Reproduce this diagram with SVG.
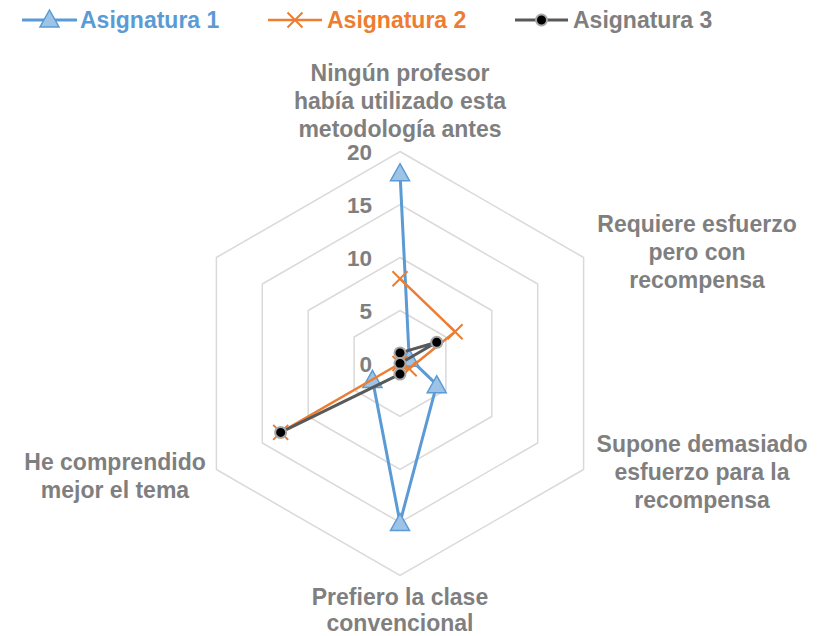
<svg xmlns="http://www.w3.org/2000/svg" width="830" height="636" viewBox="0 0 830 636">
<style>
.bg{fill:#ffffff}
.ring{fill:none;stroke:#d9d9d9;stroke-width:1.5}
.txt{font-family:"Liberation Sans",Arial,sans-serif;font-weight:bold;font-size:23px;fill:#7f7f7f}
.cat{text-anchor:middle}
.tick{text-anchor:end;font-size:22.5px}
.s1{fill:none;stroke:#5b9bd5;stroke-width:3;stroke-linejoin:round;stroke-linecap:round}
.s2{fill:none;stroke:#ed7d31;stroke-width:2.5;stroke-linejoin:round;stroke-linecap:round}
.s3{fill:none;stroke:#595959;stroke-width:3;stroke-linejoin:round;stroke-linecap:round}
.tri{fill:#9dc3e6;stroke:#5b9bd5;stroke-width:1.5}
.xm{fill:none;stroke:#ed7d31;stroke-width:2}
.dot{fill:#000000;stroke:#a6a6a6;stroke-width:2}
</style>
<defs>
<path id="mTri" class="tri" d="M0,-9 L9.5,8 L-9.5,8 Z"/>
<path id="mX" class="xm" d="M-7.5,-7.5 L7.5,7.5 M-7.5,7.5 L7.5,-7.5"/>
<circle id="mDot" class="dot" r="5.5"/>
</defs>
<rect class="bg" x="0" y="0" width="830" height="636"/>

<g id="grid">
<polygon class="ring" points="400,310.5 445.9,337 445.9,390 400,416.5 354.1,390 354.1,337"/>
<polygon class="ring" points="400,257.5 491.8,310.5 491.8,416.5 400,469.5 308.2,416.5 308.2,310.5"/>
<polygon class="ring" points="400,204.5 537.7,284 537.7,443 400,522.5 262.3,443 262.3,284"/>
<polygon class="ring" points="400,151.5 583.6,257.5 583.6,469.5 400,575.5 216.4,469.5 216.4,257.5"/>
</g>

<g id="ticks" class="txt tick">
<text x="372" y="160">20</text>
<text x="372" y="212.5">15</text>
<text x="372" y="265.5">10</text>
<text x="372" y="318.5">5</text>
<text x="372" y="371.5">0</text>
</g>

<g id="cat-top" class="txt cat">
<text x="400" y="81">Ningún profesor</text>
<text x="400" y="109">había utilizado esta</text>
<text x="400" y="137">metodología antes</text>
</g>
<g id="cat-ur" class="txt cat">
<text x="697" y="232">Requiere esfuerzo</text>
<text x="697" y="260">pero con</text>
<text x="697" y="288">recompensa</text>
</g>
<g id="cat-lr" class="txt cat">
<text x="702" y="452">Supone demasiado</text>
<text x="702" y="480">esfuerzo para la</text>
<text x="702" y="508">recompensa</text>
</g>
<g id="cat-bottom" class="txt cat">
<text x="400" y="605">Prefiero la clase</text>
<text x="400" y="631">convencional</text>
</g>
<g id="cat-ll" class="txt cat">
<text x="115" y="470">He comprendido</text>
<text x="115" y="498">mejor el tema</text>
</g>

<g id="connectors">
<g id="series1">
<polyline class="s1" points="400,172.7 409.18,358.2 436.72,384.7 400,522.5 372.46,379.4"/>
<use href="#mTri" x="400" y="172.7"/>
<use href="#mTri" x="409.18" y="358.2"/>
<use href="#mTri" x="436.72" y="384.7"/>
<use href="#mTri" x="400" y="522.5"/>
<use href="#mTri" x="372.46" y="379.4"/>
</g>
<g id="series2">
<polyline class="s2" points="400,278.7 455.08,331.7 409.18,368.8 400,363.5 280.66,432.4"/>
<use href="#mX" x="400" y="278.7"/>
<use href="#mX" x="455.08" y="331.7"/>
<use href="#mX" x="409.18" y="368.8"/>
<use href="#mX" x="400" y="363.5"/>
<use href="#mX" x="280.66" y="432.4"/>
</g>
<g id="series3">
<polyline class="s3" points="400,352.9 436.72,342.3 400,363.5 400,374.1 280.66,432.4"/>
<use href="#mDot" x="400" y="352.9"/>
<use href="#mDot" x="436.72" y="342.3"/>
<use href="#mDot" x="400" y="363.5"/>
<use href="#mDot" x="400" y="374.1"/>
<use href="#mDot" x="280.66" y="432.4"/>
</g>
</g>

<g id="legend">
<g id="leg1">
<line class="s1" x1="22" y1="20" x2="77" y2="20" style="stroke-linecap:butt"/>
<use href="#mTri" x="49.5" y="19"/>
<text class="txt" x="80" y="28" style="fill:#5b9bd5">Asignatura 1</text>
</g>
<g id="leg2">
<line class="s2" x1="268" y1="20" x2="322" y2="20" style="stroke-linecap:butt"/>
<use href="#mX" x="295" y="20"/>
<text class="txt" x="327" y="28" style="fill:#ed7d31">Asignatura 2</text>
</g>
<g id="leg3">
<line class="s3" x1="515" y1="20" x2="568" y2="20" style="stroke-linecap:butt"/>
<use href="#mDot" x="541.5" y="20"/>
<text class="txt" x="573" y="28">Asignatura 3</text>
</g>
</g>
</svg>
